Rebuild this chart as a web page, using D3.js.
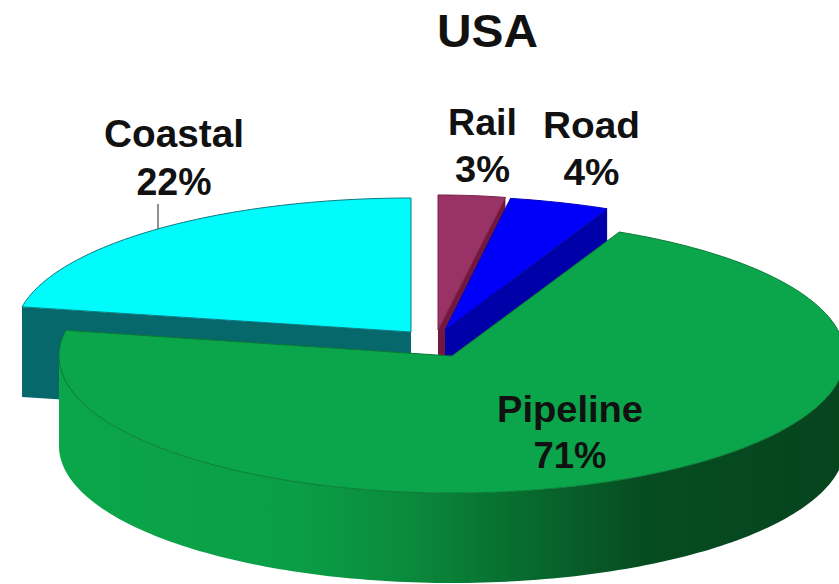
<!DOCTYPE html>
<html>
<head>
<meta charset="utf-8">
<script src="https://cdn.jsdelivr.net/npm/d3@7/dist/d3.min.js"></script>
<style>
  html, body { margin: 0; padding: 0; background: #fff; overflow: hidden; }
  text { font-family: "Liberation Sans", Arial, sans-serif; font-weight: bold; fill: #111; }
</style>
</head>
<body>
<svg id="chart" width="839" height="584"></svg>
<script>
// Freight share by transport mode
const chartTitle = "USA";
const categories = ["Rail", "Road", "Pipeline", "Coastal"];
const shares = [3, 4, 71, 22];

// Exploded slice geometry: projected disc for each mode
const discs = {
  Coastal:  { cx: 411, cy: 332, rx: 396, ry: 134, lean: 0 },
  Rail:     { cx: 438, cy: 330, rx: 360, ry: 135, lean: 0 },
  Road:     { cx: 445, cy: 330, rx: 402, ry: 134, lean: -10 },
  Pipeline: { cx: 452, cy: 356, rx: 393, ry: 137, lean: 0 }
};
const depth = 90;
const paintOrder = ["Coastal", "Rail", "Road", "Pipeline"];

const topColor = { Coastal: "#00fbfd", Rail: "#993366", Road: "#0000fa", Pipeline: "#0ba64b" };
const sideColor = { Coastal: "#07686c", Rail: "#74173f", Road: "#0000a8", Pipeline: "url(#pipelineSide)" };
const edgeColor = { Coastal: "#0b7a80", Rail: "#7c2048", Road: "#0000c0", Pipeline: "#0a7a36" };

// Label placement: centre x, name baseline, value baseline, text widths
const labelSpots = {
  USA:      { x: 487.5, y: 47, size: 46, w: 101 },
  Coastal:  { x: 174, y1: 147, y2: 195, size: 38, w1: 140, w2: 75 },
  Rail:     { x: 482.5, y1: 135, y2: 182, size: 37, w1: 69, w2: 55 },
  Road:     { x: 591.5, y1: 138, y2: 185, size: 37, w1: 97, w2: 56 },
  Pipeline: { x: 570, y1: 422, y2: 468, size: 37, w1: 146, w2: 73 }
};

const svg = d3.select("#chart");

const defs = svg.append("defs");
const grad = defs.append("linearGradient")
  .attr("id", "pipelineSide")
  .attr("gradientUnits", "userSpaceOnUse")
  .attr("x1", 58).attr("x2", 839).attr("y1", 0).attr("y2", 0);
[[0, "#0ba649"], [0.3, "#0a9f46"], [0.45, "#0a8a3c"], [0.6, "#086a2e"], [0.75, "#064c21"], [1, "#06441e"]]
  .forEach(([o, c]) => grad.append("stop").attr("offset", o).attr("stop-color", c));

const arcs = d3.pie().value(d => d.share).sort(null).startAngle(0).endAngle(2 * Math.PI)(
  categories.map((name, i) => ({ name, share: shares[i] }))
);
const arcByName = new Map(arcs.map(a => [a.data.name, a]));

const point = (d, angle, drop = 0) => [
  d.cx + d.rx * Math.sin(angle) + d.lean * Math.cos(angle),
  d.cy - d.ry * Math.cos(angle) + drop
];
const rimPoints = (d, a0, a1, drop = 0) => {
  const steps = Math.max(2, Math.ceil((a1 - a0) / 0.02));
  return d3.range(steps + 1).map(i => point(d, a0 + (a1 - a0) * i / steps, drop));
};
const line = d3.line();

const pieGroup = svg.append("g");

paintOrder.forEach(name => {
  const a = arcByName.get(name);
  const d = discs[name];
  const g = pieGroup.append("g").attr("class", "slice");

  // Radial cut faces that turn toward the viewer
  [[a.startAngle, Math.sin(a.startAngle) < -1e-6], [a.endAngle, Math.sin(a.endAngle) > 1e-6]]
    .filter(f => f[1])
    .forEach(([angle]) => {
      g.append("path")
        .attr("d", line([[d.cx, d.cy], point(d, angle), point(d, angle, depth), [d.cx, d.cy + depth]]) + "Z")
        .attr("fill", sideColor[name]);
    });

  // Outer wall along the front half of the rim
  const w0 = Math.max(a.startAngle, Math.PI / 2);
  const w1 = Math.min(a.endAngle, 3 * Math.PI / 2);
  if (w1 > w0) {
    const wall = rimPoints(d, w0, w1).concat(rimPoints(d, w0, w1, depth).reverse());
    g.append("path").attr("d", line(wall) + "Z").attr("fill", sideColor[name]);
  }

  // Top surface
  const top = [[d.cx, d.cy]].concat(rimPoints(d, a.startAngle, a.endAngle));
  g.append("path")
    .attr("d", line(top) + "Z")
    .attr("fill", topColor[name])
    .attr("stroke", edgeColor[name])
    .attr("stroke-width", 1)
    .attr("stroke-linejoin", "round");
});

// Leader tying the Coastal label to its slice
svg.append("line")
  .attr("x1", 158).attr("x2", 158)
  .attr("y1", 204).attr("y2", 229)
  .attr("stroke", "#555").attr("stroke-width", 1.3);

// Fitted text: the drawn width is set so the bold face sits a little wide
const fitted = (x, y, size, width, str) => svg.append("text")
  .attr("x", x).attr("y", y)
  .attr("text-anchor", "middle")
  .attr("font-size", size)
  .attr("textLength", width)
  .attr("lengthAdjust", "spacingAndGlyphs")
  .text(str);

fitted(labelSpots.USA.x, labelSpots.USA.y, labelSpots.USA.size, labelSpots.USA.w, chartTitle);

categories.forEach((name, i) => {
  const s = labelSpots[name];
  fitted(s.x, s.y1, s.size, s.w1, name);
  fitted(s.x, s.y2, s.size, s.w2, d3.format("d")(shares[i]) + "%");
});
</script>
</body>
</html>
